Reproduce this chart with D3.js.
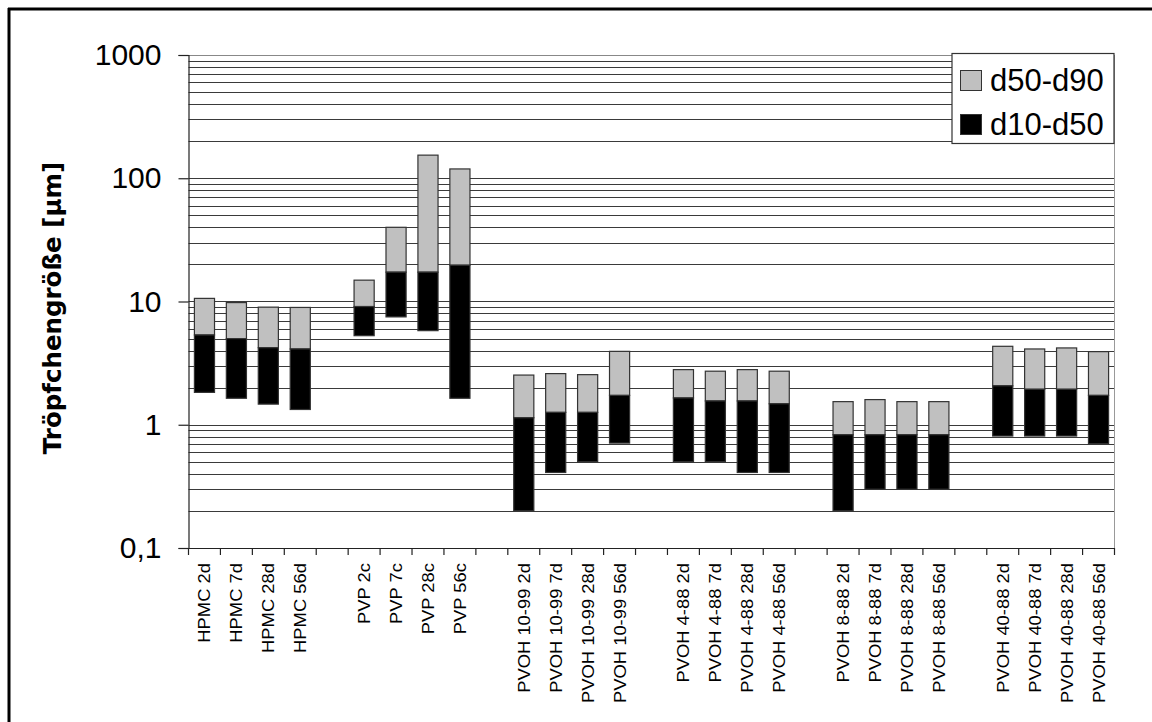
<!DOCTYPE html>
<html>
<head>
<meta charset="utf-8">
<script src="https://cdn.jsdelivr.net/npm/d3@7/dist/d3.min.js"></script>
<style>
html,body{margin:0;padding:0;background:#fff;}
svg{display:block;}
</style>
</head>
<body>
<svg id="chart" width="1152" height="722"></svg>
<script>
// ---- data ----
const groups = ["HPMC", "PVP", "PVOH 10-99", "PVOH 4-88", "PVOH 8-88", "PVOH 40-88"];
const categories = [
  "HPMC 2d","HPMC 7d","HPMC 28d","HPMC 56d",
  "PVP 2c","PVP 7c","PVP 28c","PVP 56c",
  "PVOH 10-99 2d","PVOH 10-99 7d","PVOH 10-99 28d","PVOH 10-99 56d",
  "PVOH 4-88 2d","PVOH 4-88 7d","PVOH 4-88 28d","PVOH 4-88 56d",
  "PVOH 8-88 2d","PVOH 8-88 7d","PVOH 8-88 28d","PVOH 8-88 56d",
  "PVOH 40-88 2d","PVOH 40-88 7d","PVOH 40-88 28d","PVOH 40-88 56d"
];
const d10 = [1.83,1.64,1.47,1.33, 5.28,7.5,5.8,1.64, 0.2,0.41,0.5,0.71, 0.5,0.5,0.41,0.41, 0.2,0.3,0.3,0.3, 0.81,0.81,0.81,0.7];
const d50 = [5.35,5.0,4.22,4.12, 9.1,17.3,17.3,19.7, 1.14,1.26,1.26,1.73, 1.65,1.56,1.56,1.48, 0.83,0.83,0.83,0.83, 2.07,1.94,1.94,1.73];
const d90 = [10.6,9.8,9.0,8.95, 14.9,40,154,119, 2.53,2.6,2.55,3.94, 2.8,2.72,2.8,2.72, 1.54,1.6,1.54,1.54, 4.33,4.12,4.2,3.92];
const yTickValues = [0.1, 1, 10, 100, 1000];
const yTickLabels = ["0,1", "1", "10", "100", "1000"];
const seriesNames = ["d50-d90", "d10-d50"];
const yTitle = "Tröpfchengröße [µm]";

// ---- layout ----
const svg = d3.select("#chart");
const pLeft = 188.5, pRight = 1114.5, pTop = 55, pBottom = 548;
const perGroup = 4;
const nSlots = groups.length * perGroup + (groups.length - 1);
const slotOf = i => i + Math.floor(i / perGroup);

const x = d3.scaleBand().domain(d3.range(nSlots)).range([pLeft, pRight]).paddingInner(0.37).paddingOuter(0.185);
const y = d3.scaleLog().domain([0.1, 1000]).range([pBottom, pTop]);

const colGray = "#c0c0c0", colBlack = "#000000", edge = "#333333";

// outer frame (top and left only)
svg.append("line").attr("x1", 8).attr("x2", 1152).attr("y1", 9).attr("y2", 9).attr("stroke", "#000").attr("stroke-width", 3);
svg.append("line").attr("x1", 9).attr("x2", 9).attr("y1", 8).attr("y2", 722).attr("stroke", "#000").attr("stroke-width", 3);

// gridlines
svg.append("g").selectAll("line").data(y.ticks()).join("line")
  .attr("x1", pLeft).attr("x2", pRight)
  .attr("y1", d => Math.round(y(d)) + 0.5).attr("y2", d => Math.round(y(d)) + 0.5)
  .attr("stroke", d => d === 1000 ? "#888" : "#3a3a3a").attr("stroke-width", 1);

// right border of plot
svg.append("line").attr("x1", pRight).attr("x2", pRight).attr("y1", pTop).attr("y2", pBottom)
  .attr("stroke", "#999").attr("stroke-width", 1);

// bars
const rows = categories.map((c, i) => ({ c, slot: slotOf(i), d10: d10[i], d50: d50[i], d90: d90[i] }));
const bars = svg.append("g");
bars.selectAll("rect.hi").data(rows).join("rect").attr("class", "hi")
  .attr("x", d => x(d.slot)).attr("width", x.bandwidth())
  .attr("y", d => y(d.d90)).attr("height", d => y(d.d50) - y(d.d90))
  .attr("fill", colGray).attr("stroke", edge).attr("stroke-width", 1.2);
bars.selectAll("rect.lo").data(rows).join("rect").attr("class", "lo")
  .attr("x", d => x(d.slot)).attr("width", x.bandwidth())
  .attr("y", d => y(d.d50)).attr("height", d => y(d.d10) - y(d.d50))
  .attr("fill", colBlack).attr("stroke", edge).attr("stroke-width", 1.2);

// y axis
const yAxis = d3.axisLeft(y).tickValues(yTickValues).tickFormat((d, i) => yTickLabels[i]).tickSize(10).tickPadding(17);
const gy = svg.append("g").attr("transform", `translate(${pLeft},0)`).call(yAxis);
gy.select(".domain").attr("stroke", "#222").attr("stroke-width", 1.2);
gy.selectAll(".tick line").attr("stroke", "#222").attr("stroke-width", 1.2);
gy.selectAll(".tick text").attr("font-family", "Liberation Sans, Arial, sans-serif").attr("font-size", 30).attr("fill", "#000");

// x axis line and ticks at band boundaries
svg.append("line").attr("x1", pLeft).attr("x2", pRight).attr("y1", pBottom + 0.5).attr("y2", pBottom + 0.5).attr("stroke", "#222").attr("stroke-width", 1.2);
const step = x.step();
const x0 = x(0) - step * x.paddingOuter();
svg.append("g").selectAll("line").data(d3.range(nSlots + 1)).join("line")
  .attr("x1", i => x0 + i * step)
  .attr("x2", i => x0 + i * step)
  .attr("y1", pBottom).attr("y2", pBottom + 7).attr("stroke", "#222").attr("stroke-width", 1.2);

// x labels
svg.append("g").selectAll("text").data(rows).join("text")
  .attr("transform", d => `translate(${x(d.slot) + x.bandwidth() / 2 + 6},563) rotate(-90) scale(1.15,1)`)
  .attr("text-anchor", "end")
  .attr("font-family", "Liberation Sans, Arial, sans-serif").attr("font-size", 16).attr("fill", "#000")
  .text(d => d.c);

// y title
svg.append("text")
  .attr("transform", "translate(61,308) rotate(-90)")
  .attr("text-anchor", "middle")
  .attr("font-family", "DejaVu Sans, Verdana, sans-serif").attr("font-weight", "bold").attr("font-size", 24.5)
  .attr("fill", "#000").text(yTitle);

// legend
const lg = svg.append("g");
lg.append("rect").attr("x", 952).attr("y", 53.5).attr("width", 162).attr("height", 90).attr("fill", "#fff").attr("stroke", "#333").attr("stroke-width", 1.2);
const legendColors = [colGray, colBlack];
seriesNames.forEach((s, i) => {
  lg.append("rect").attr("x", 960.5).attr("y", 70.5 + i * 44).attr("width", 21).attr("height", 20)
    .attr("fill", legendColors[i]).attr("stroke", "#333").attr("stroke-width", 1);
  lg.append("text").attr("x", 990).attr("y", 91 + i * 44)
    .attr("font-family", "Liberation Sans, Arial, sans-serif").attr("font-size", 31).attr("fill", "#000").text(s);
});
</script>
</body>
</html>
